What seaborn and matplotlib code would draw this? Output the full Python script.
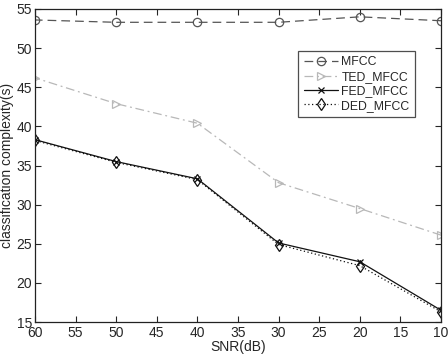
import matplotlib
matplotlib.use("Agg")
import matplotlib.pyplot as plt
import seaborn as sns
import pandas as pd

sns.set_style("white")
plt.rcParams["font.family"] = ["Liberation Sans", "DejaVu Sans"]

snr = [60, 50, 40, 30, 20, 10]
mfcc = [53.6, 53.3, 53.3, 53.3, 54.0, 53.5]
ted_mfcc = [46.2, 42.9, 40.4, 32.8, 29.5, 26.1]
fed_mfcc = [38.3, 35.5, 33.3, 25.1, 22.7, 16.5]
ded_mfcc = [38.2, 35.4, 33.2, 24.9, 22.2, 16.3]

fig = plt.figure(figsize=(4.48, 3.54), dpi=100)
ax = fig.add_axes([35 / 448, 32 / 354, 406 / 448, 313 / 354])

# 시리즈별 스타일
styles = [
    ("MFCC", mfcc, "#555555", (0, (7, 4)), "o", 6),
    ("TED_MFCC", ted_mfcc, "#b8b8b8", (0, (7, 3, 1.5, 3)), ">", 6),
    ("FED_MFCC", fed_mfcc, "#111111", "-", "x", 4),
    ("DED_MFCC", ded_mfcc, "#111111", (0, (1, 2)), "d", 6),
]

for name, vals, col, ls, mk, ms in styles:
    df = pd.DataFrame({"snr": snr, "val": vals})
    sns.lineplot(data=df, x="snr", y="val", ax=ax, color=col, linestyle=ls,
                 marker=mk, markersize=ms, markerfacecolor="none",
                 markeredgecolor=col, markeredgewidth=0.9, linewidth=0.9,
                 label=name)

ax.set_xlim(60, 10)
ax.set_ylim(15, 55)
ax.set_xticks(range(10, 61, 5))
ax.set_yticks(range(15, 56, 5))
ax.tick_params(direction="in", length=4, labelsize=10, top=True, right=True,
               bottom=True, left=True, pad=2, width=0.8)
ax.tick_params(axis="x", pad=3)
for s in ax.spines.values():
    s.set_color("#222222")
    s.set_linewidth(0.9)

ax.set_xlabel("SNR(dB)", fontsize=10, labelpad=0)
ax.set_ylabel("classification complexity(s)", fontsize=10, labelpad=2)

leg = ax.legend(loc="upper left", bbox_to_anchor=(0.648, 0.866), fontsize=8.8,
                frameon=True, fancybox=False, edgecolor="#222222",
                borderaxespad=0, handlelength=2.8, handletextpad=0.3,
                labelspacing=0.2, borderpad=0.45)
leg.get_frame().set_linewidth(0.9)

fig.savefig("out.png", dpi=100)
